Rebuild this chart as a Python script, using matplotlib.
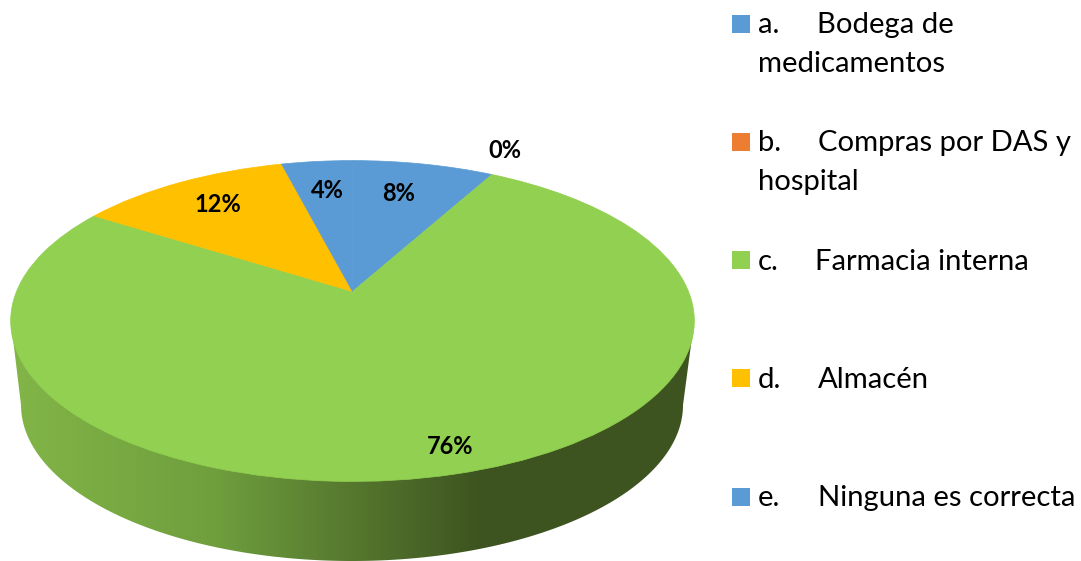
import numpy as np
import matplotlib
matplotlib.use("Agg")
import matplotlib.pyplot as plt
from matplotlib.colors import LinearSegmentedColormap
from matplotlib.patches import Polygon, Rectangle
from matplotlib.transforms import Transform

plt.rcParams["font.family"] = ["Lato", "DejaVu Sans"]

values = [8, 0, 76, 12, 4]
colors = ["#5B9BD5", "#ED7D31", "#91D050", "#FFC000", "#5B9BD5"]
pct_labels = ["8%", "0%", "76%", "12%", "4%"]
legend_letters = ["a.", "b.", "c.", "d.", "e."]
legend_first = ["Bodega de", "Compras por DAS y", "Farmacia interna", "Almacén", "Ninguna es correcta"]
legend_second = ["medicamentos", "hospital", "", "", ""]

# pixel spots, the axes runs in image pixels
pct_xy = [(399, 193), (505, 150), (450, 446), (218, 204), (327, 190)]
legend_y = [33, 151, 270, 388, 506]
legend_word_x = [817, 818, 815, 818, 818]
legend_second_y = [72, 190, 0, 0, 0]
legend_box_y = [15, 133, 251, 369, 488]


class Tilt(Transform):
    # unit circle -> perspective ellipse seen in the picture
    input_dims = 2
    output_dims = 2
    is_separable = False
    has_inverse = False

    def transform_non_affine(self, pts):
        pts = np.asarray(pts, dtype=float)
        x, y = pts[:, 0], pts[:, 1]
        w = 1 + 0.184 * y
        return np.column_stack([352.5 + 336 * x / w, 291.5 - 155 * y / w])


fig = plt.figure(figsize=(10.81, 5.61), dpi=100)
ax = fig.add_axes([0, 0, 1, 1])

wedges, _ = ax.pie(values, colors=colors, startangle=90, counterclock=False, radius=1,
                   wedgeprops={"linewidth": 0})
tilt = Tilt()
for w, v, c in zip(wedges, values, colors):
    w.set_transform(tilt + ax.transData)
    w.set_zorder(3)
    if v > 0:
        # hides the seam between the two blue slices
        w.set_edgecolor(c)
        w.set_linewidth(0.5)

# side wall of the disc
t = np.linspace(np.pi, 2 * np.pi, 200)
low_x = 352 + 331 * np.cos(t)
low_y = 405 - 156 * np.sin(t)
wall = np.column_stack([np.r_[11, low_x, 694], np.r_[322, low_y, 322]])
wall_patch = Polygon(wall, closed=True, transform=ax.transData, facecolor="none", edgecolor="none")
ax.add_patch(wall_patch)
cmap = LinearSegmentedColormap.from_list(
    "wall", [(0, "#82B548"), (0.3, "#6F9E3D"), (0.69, "#3D5320"), (1, "#3D5320")], N=256)
grad = np.linspace(0, 1, 684).reshape(1, -1)
im = ax.imshow(grad, extent=[11, 695, 561, 300], cmap=cmap, vmin=0, vmax=1, aspect="auto", zorder=1)
im.set_clip_path(wall_patch)

for lab, (px, py) in zip(pct_labels, pct_xy):
    ax.text(px, py, lab, ha="center", va="center", fontsize=17, fontweight="bold", color="black", zorder=5)

for i in range(len(legend_letters)):
    ax.add_patch(Rectangle((732, legend_box_y[i]), 18, 18, facecolor=colors[i], edgecolor="none"))
    ax.text(758, legend_y[i], legend_letters[i], fontsize=21.1, va="baseline", color="black")
    ax.text(legend_word_x[i], legend_y[i], legend_first[i], fontsize=21.1, va="baseline", color="black")
    if legend_second[i]:
        ax.text(758, legend_second_y[i], legend_second[i], fontsize=21.1, va="baseline", color="black")

ax.set_xlim(0, 1081)
ax.set_ylim(561, 0)
ax.set_aspect("auto")
ax.axis("off")

fig.savefig("out.png", dpi=100)
